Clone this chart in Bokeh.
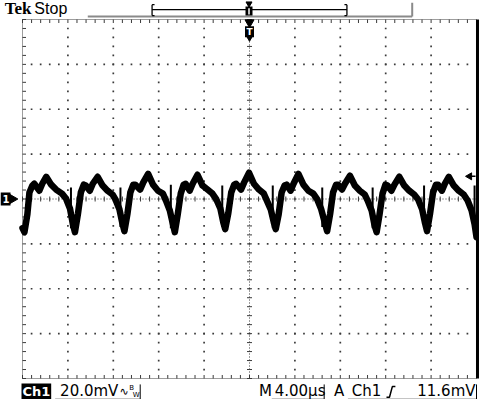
import numpy as np
from bokeh.plotting import figure
from bokeh.models import Range1d
from bokeh.core.properties import value
from bokeh.embed import file_html
from bokeh.resources import INLINE

# ---------------- data ----------------
time_per_div_us = 4.0
volts_per_div_mV = 20.0
n_xdiv = 10
n_ydiv = 8

time_us = [
    -20.00, -19.83, -19.57, -19.39, -19.13, -18.96, -18.52, -18.26, -17.91, -17.47, -17.04, -16.52, -16.17, -15.82, -15.56, -15.38,
    -15.12, -14.86, -14.60, -14.42, -14.07, -13.81, -13.38, -12.94, -12.51, -12.07, -11.81, -11.46, -11.20, -11.02,
    -10.76, -10.50, -10.24, -10.07, -9.63, -9.37, -8.93, -8.50, -8.06, -7.63, -7.36, -7.02, -6.75, -6.58,
    -6.32, -6.06, -5.80, -5.62, -5.27, -5.01, -4.58, -4.14, -3.70, -3.27, -2.92, -2.57, -2.31, -2.14,
    -1.87, -1.61, -1.35, -1.18, -0.74, -0.48, -0.04, 0.39, 0.83, 1.26, 1.53, 1.87, 2.14, 2.31,
    2.57, 2.83, 3.09, 3.27, 3.62, 3.88, 4.31, 4.75, 5.19, 5.62, 5.97, 6.32, 6.67, 6.84,
    7.10, 7.36, 7.63, 7.80, 8.15, 8.41, 8.85, 9.28, 9.72, 10.15, 10.41, 10.76, 11.02, 11.20,
    11.46, 11.72, 11.98, 12.16, 12.51, 12.77, 13.20, 13.64, 14.07, 14.51, 14.86, 15.21, 15.47, 15.64,
    15.90, 16.17, 16.43, 16.60, 16.95, 17.21, 17.56, 18.00, 18.43, 18.87, 19.22, 19.57, 19.83, 20.00,
]
ch1_mV = [
    -13.0, -14.8, -6.8, 2.9, 6.0, 6.8, 3.7, 6.8, 9.9, 6.4, 4.2, 2.4, 0.2, -4.2, -11.2, -14.8,
    -6.8, 2.9, 6.4, 6.0, 3.7, 6.8, 9.9, 6.0, 3.7, 2.0, -0.2, -4.6, -10.8, -14.3,
    -6.8, 2.9, 6.4, 6.4, 4.2, 7.3, 11.2, 6.4, 3.7, 2.4, -0.7, -5.1, -11.2, -14.8,
    -6.8, 2.4, 6.4, 6.8, 3.7, 6.8, 10.8, 6.0, 4.2, 2.4, -0.2, -4.2, -10.4, -13.4,
    -6.4, 2.9, 6.4, 6.8, 4.2, 7.3, 11.7, 6.8, 4.2, 2.4, -0.7, -4.6, -10.4, -13.4,
    -6.8, 2.9, 6.0, 6.4, 3.7, 6.8, 11.2, 6.4, 3.7, 2.4, -0.2, -4.6, -11.2, -14.3,
    -6.8, 2.9, 6.4, 6.4, 4.2, 6.8, 10.4, 6.0, 3.7, 2.0, -0.7, -5.1, -11.7, -14.8,
    -6.8, 2.4, 6.4, 6.0, 3.7, 6.4, 9.9, 6.0, 3.7, 2.0, -0.2, -4.6, -10.8, -14.3,
    -6.8, 2.9, 6.4, 6.4, 3.7, 6.8, 9.9, 6.0, 3.7, 2.0, -0.7, -5.1, -11.2, -17.0,
]
glitch_time_us = [-15.73, -11.37, -6.93, -2.40, 2.05, 6.41, 10.85, 15.38, 19.83]
glitch_top_mV = [5.1, 5.1, 6.4, 6.0, 6.0, 5.1, 5.1, 6.0, 6.0]
glitch_bottom_mV = [-13.0, -12.5, -13.0, -12.5, -13.0, -12.5, -13.0, -12.5, -14.0]

trigger_level_mV = 11.6
header_brand = "Tek"
header_state = "Stop"
channel_label = "Ch1"
volts_label = "20.0mV"
time_prefix = "M"
time_label = "4.00µs"
trig_mode = "A"
trig_source = "Ch1"
trig_level_label = "11.6mV"
ground_label = "1"

# ---------------- layout ----------------
W, H = 479, 399
GX0, GX1 = 22, 476      # grid left/right in canvas px
GY0, GY1 = 19, 378      # grid top/bottom in canvas px
x_half = n_xdiv / 2 * time_per_div_us
y_half = n_ydiv / 2 * volts_per_div_mV
sx = (GX1 - GX0) / (2 * x_half)
sy = (GY1 - GY0) / (2 * y_half)
x_start = -x_half - GX0 / sx
x_end = x_start + W / sx
y_end = y_half + GY0 / sy
y_start = y_end - H / sy


def RX(X):
    return x_start + (GX0 + (X - 29) * (GX1 - GX0) / 459.0) / sx


def RY(Y):
    return y_end - (GY0 + (Y - 25) * (GY1 - GY0) / 363.0) / sy


p = figure(width=W, height=H, x_range=Range1d(x_start, x_end), y_range=Range1d(y_start, y_end),
           x_axis_type=None, y_axis_type=None, toolbar_location=None, tools="",
           output_backend="svg", min_border=0, outline_line_color=None,
           background_fill_color="white", border_fill_color="white")

GRID = "#3a3a3a"
dx_minor = time_per_div_us / 5
dy_minor = volts_per_div_mV / 5
xs_minor = np.arange(-x_half, x_half + 1e-9, dx_minor)
ys_minor = np.arange(-y_half, y_half + 1e-9, dy_minor)
xs_major = np.arange(-x_half, x_half + 1e-9, time_per_div_us)
ys_major = np.arange(-y_half, y_half + 1e-9, volts_per_div_mV)

# interior dotted grid
dot_x, dot_y = [], []
for xm in xs_major[1:-1]:
    if abs(xm) < 1e-9:
        continue
    for ym in ys_minor[1:-1]:
        dot_x.append(xm); dot_y.append(ym)
for ym in ys_major[1:-1]:
    if abs(ym) < 1e-9:
        continue
    for xm in xs_minor[1:-1]:
        dot_x.append(xm); dot_y.append(ym)
p.scatter(dot_x, dot_y, marker="square", size=1.7, color=GRID, line_width=0)

# center lines with ticks
p.segment(x0=[0], y0=[-y_half], x1=[0], y1=[y_half], line_color=GRID, line_width=1, line_dash="1 2")
p.segment(x0=[-x_half], y0=[0], x1=[x_half], y1=[0], line_color=GRID, line_width=1, line_dash="1 2")
tk = 2.5
p.segment(x0=[-tk / sx] * len(ys_minor), y0=list(ys_minor), x1=[tk / sx] * len(ys_minor), y1=list(ys_minor),
          line_color=GRID, line_width=1)
p.segment(x0=list(xs_minor), y0=[-tk / sy] * len(xs_minor), x1=list(xs_minor), y1=[tk / sy] * len(xs_minor),
          line_color=GRID, line_width=1)

# border (dotted + inward ticks)
p.segment(x0=[-x_half, -x_half, -x_half], y0=[-y_half, y_half, -y_half],
          x1=[-x_half, x_half, x_half], y1=[y_half, y_half, -y_half],
          line_color=GRID, line_width=1, line_dash="1 1")
bt = 3.5
p.segment(x0=[-x_half] * len(ys_minor), y0=list(ys_minor), x1=[-x_half + bt / sx] * len(ys_minor), y1=list(ys_minor),
          line_color=GRID, line_width=1)
p.segment(x0=list(xs_minor), y0=[y_half] * len(xs_minor), x1=list(xs_minor), y1=[y_half - bt / sy] * len(xs_minor),
          line_color=GRID, line_width=1)
p.segment(x0=list(xs_minor), y0=[-y_half] * len(xs_minor), x1=list(xs_minor), y1=[-y_half + bt / sy] * len(xs_minor),
          line_color=GRID, line_width=1)
# right edge: solid thick
p.segment(x0=[RX(489)], y0=[y_half], x1=[RX(489)], y1=[-y_half], line_color="black", line_width=3)

# ---------------- waveform ----------------
p.line(time_us, ch1_mV, line_color="black", line_width=6.5, line_join="round", line_cap="round")
p.segment(x0=glitch_time_us, y0=glitch_bottom_mV, x1=glitch_time_us, y1=glitch_top_mV,
          line_color="black", line_width=2)

# ---------------- header ----------------
p.text(x=[RX(11)], y=[RY(14)], text=[header_brand], text_font=value("Liberation Serif"),
       text_font_style="bold", text_font_size="17px", text_baseline="middle", text_color="black")
p.text(x=[RX(41)], y=[RY(14)], text=[header_state], text_font=value("Liberation Sans"),
       text_font_size="16px", text_baseline="middle", text_color="black")
# gray record bar
p.segment(x0=[RX(95), RX(423)], y0=[RY(22), RY(8)], x1=[RX(423), RX(423)], y1=[RY(22), RY(22)],
          line_color="#8a8a8a", line_width=2)
# bracket (displayed window)
p.segment(x0=[RX(160), RX(160), RX(357), RX(160), RX(160), RX(357), RX(357)],
          y0=[RY(15), RY(10), RY(10), RY(10), RY(21), RY(10), RY(21)],
          x1=[RX(357), RX(160), RX(357), RX(162.5), RX(162.5), RX(354.5), RX(354.5)],
          y1=[RY(15), RY(21), RY(21), RY(10), RY(21), RY(10), RY(21)],
          line_color="black", line_width=1.3)
# trigger position icons
p.scatter([RX(258)], [RY(9)], marker="inverted_triangle", size=6, color="black")
p.rect([RX(258)], [RY(16.5)], width=7, height=9, width_units="screen", height_units="screen",
       fill_color="black", line_color=None)
p.segment(x0=[RX(258)], y0=[RY(13.5)], x1=[RX(258)], y1=[RY(20)], line_color="white", line_width=1.5)
p.scatter([RX(258.5)], [RY(28)], marker="inverted_triangle", size=9, color="black")
p.rect([RX(258.5)], [RY(37.5)], width=9, height=11, width_units="screen", height_units="screen",
       fill_color="black", line_color=None)
p.scatter([RX(258.5)], [RY(43)], marker="inverted_triangle", size=7, color="black")
p.text(x=[RX(258.5)], y=[RY(38)], text=["T"], text_font=value("DejaVu Sans"), text_font_style="bold",
       text_font_size="9px", text_align="center", text_baseline="middle", text_color="white")

# trigger level arrow (right)
p.scatter([RX(481)], [trigger_level_mV - 1.5], marker="triangle", angle=np.pi / 2, size=7, color="black")
p.segment(x0=[RX(481)], y0=[trigger_level_mV - 1.5], x1=[RX(487)], y1=[trigger_level_mV - 1.5],
          line_color="black", line_width=1.5)

# ground marker (left)
p.rect([x_start + 5 / sx], [0], width=10, height=13, width_units="screen", height_units="screen",
       fill_color="black", line_color=None)
p.scatter([x_start + 11 / sx], [0], marker="triangle", angle=-np.pi / 2, size=11, color="black")
p.text(x=[x_start + 5.5 / sx], y=[0], text=[ground_label], text_font=value("DejaVu Sans"),
       text_font_style="bold", text_font_size="10px", text_align="center", text_baseline="middle",
       text_color="white")

# ---------------- status bar ----------------
SB_Y = RY(401)
FONT = value("DejaVu Sans")
p.quad(left=[RX(28)], right=[RX(58)], top=[RY(393)], bottom=[RY(409)], fill_color="black", line_color=None)
p.text(x=[RX(43)], y=[SB_Y], text=[channel_label], text_font=FONT, text_font_style="bold",
       text_font_size="13px", text_align="center", text_baseline="middle", text_color="white")
p.text(x=[RX(67)], y=[SB_Y], text=[volts_label], text_font=FONT, text_font_size="15px",
       text_baseline="middle", text_color="black")
p.text(x=[RX(127)], y=[SB_Y], text=["∿"], text_font=FONT, text_font_size="11px",
       text_baseline="middle", text_color="black")
p.text(x=[RX(137)], y=[RY(398)], text=["B"], text_font=FONT, text_font_size="7px",
       text_baseline="middle", text_color="black")
p.text(x=[RX(140.5)], y=[RY(405)], text=["W"], text_font=FONT, text_font_size="7px",
       text_baseline="middle", text_color="black")
p.text(x=[RX(268)], y=[SB_Y], text=[time_prefix], text_font=FONT, text_font_size="15px",
       text_baseline="middle", text_color="black")
p.text(x=[RX(284)], y=[SB_Y], text=[time_label], text_font=FONT, text_font_size="15px",
       text_baseline="middle", text_color="black")
p.text(x=[RX(344)], y=[SB_Y], text=[trig_mode], text_font=FONT, text_font_size="15px",
       text_baseline="middle", text_color="black")
p.text(x=[RX(362)], y=[SB_Y], text=[trig_source], text_font=FONT, text_font_size="15px",
       text_baseline="middle", text_color="black")
p.text(x=[RX(487)], y=[SB_Y], text=[trig_level_label], text_font=FONT, text_font_size="15px",
       text_align="right", text_baseline="middle", text_color="black")
# rising slope symbol
p.line([RX(397), RX(400), RX(403), RX(406)], [RY(407), RY(407), RY(396), RY(396)],
       line_color="black", line_width=1.5)
# underlines with end bars
ul_y = RY(409)
p.segment(x0=[RX(62), RX(281), RX(358), RX(148), RX(334), RX(488)],
          y0=[ul_y, ul_y, ul_y, RY(394), RY(394), RY(394)],
          x1=[RX(148), RX(334), RX(488), RX(148), RX(334), RX(488)],
          y1=[ul_y, ul_y, ul_y, ul_y, ul_y, ul_y],
          line_color="black", line_width=1)

open("out.html", "w").write(file_html(p, INLINE, "Tek Stop"))
